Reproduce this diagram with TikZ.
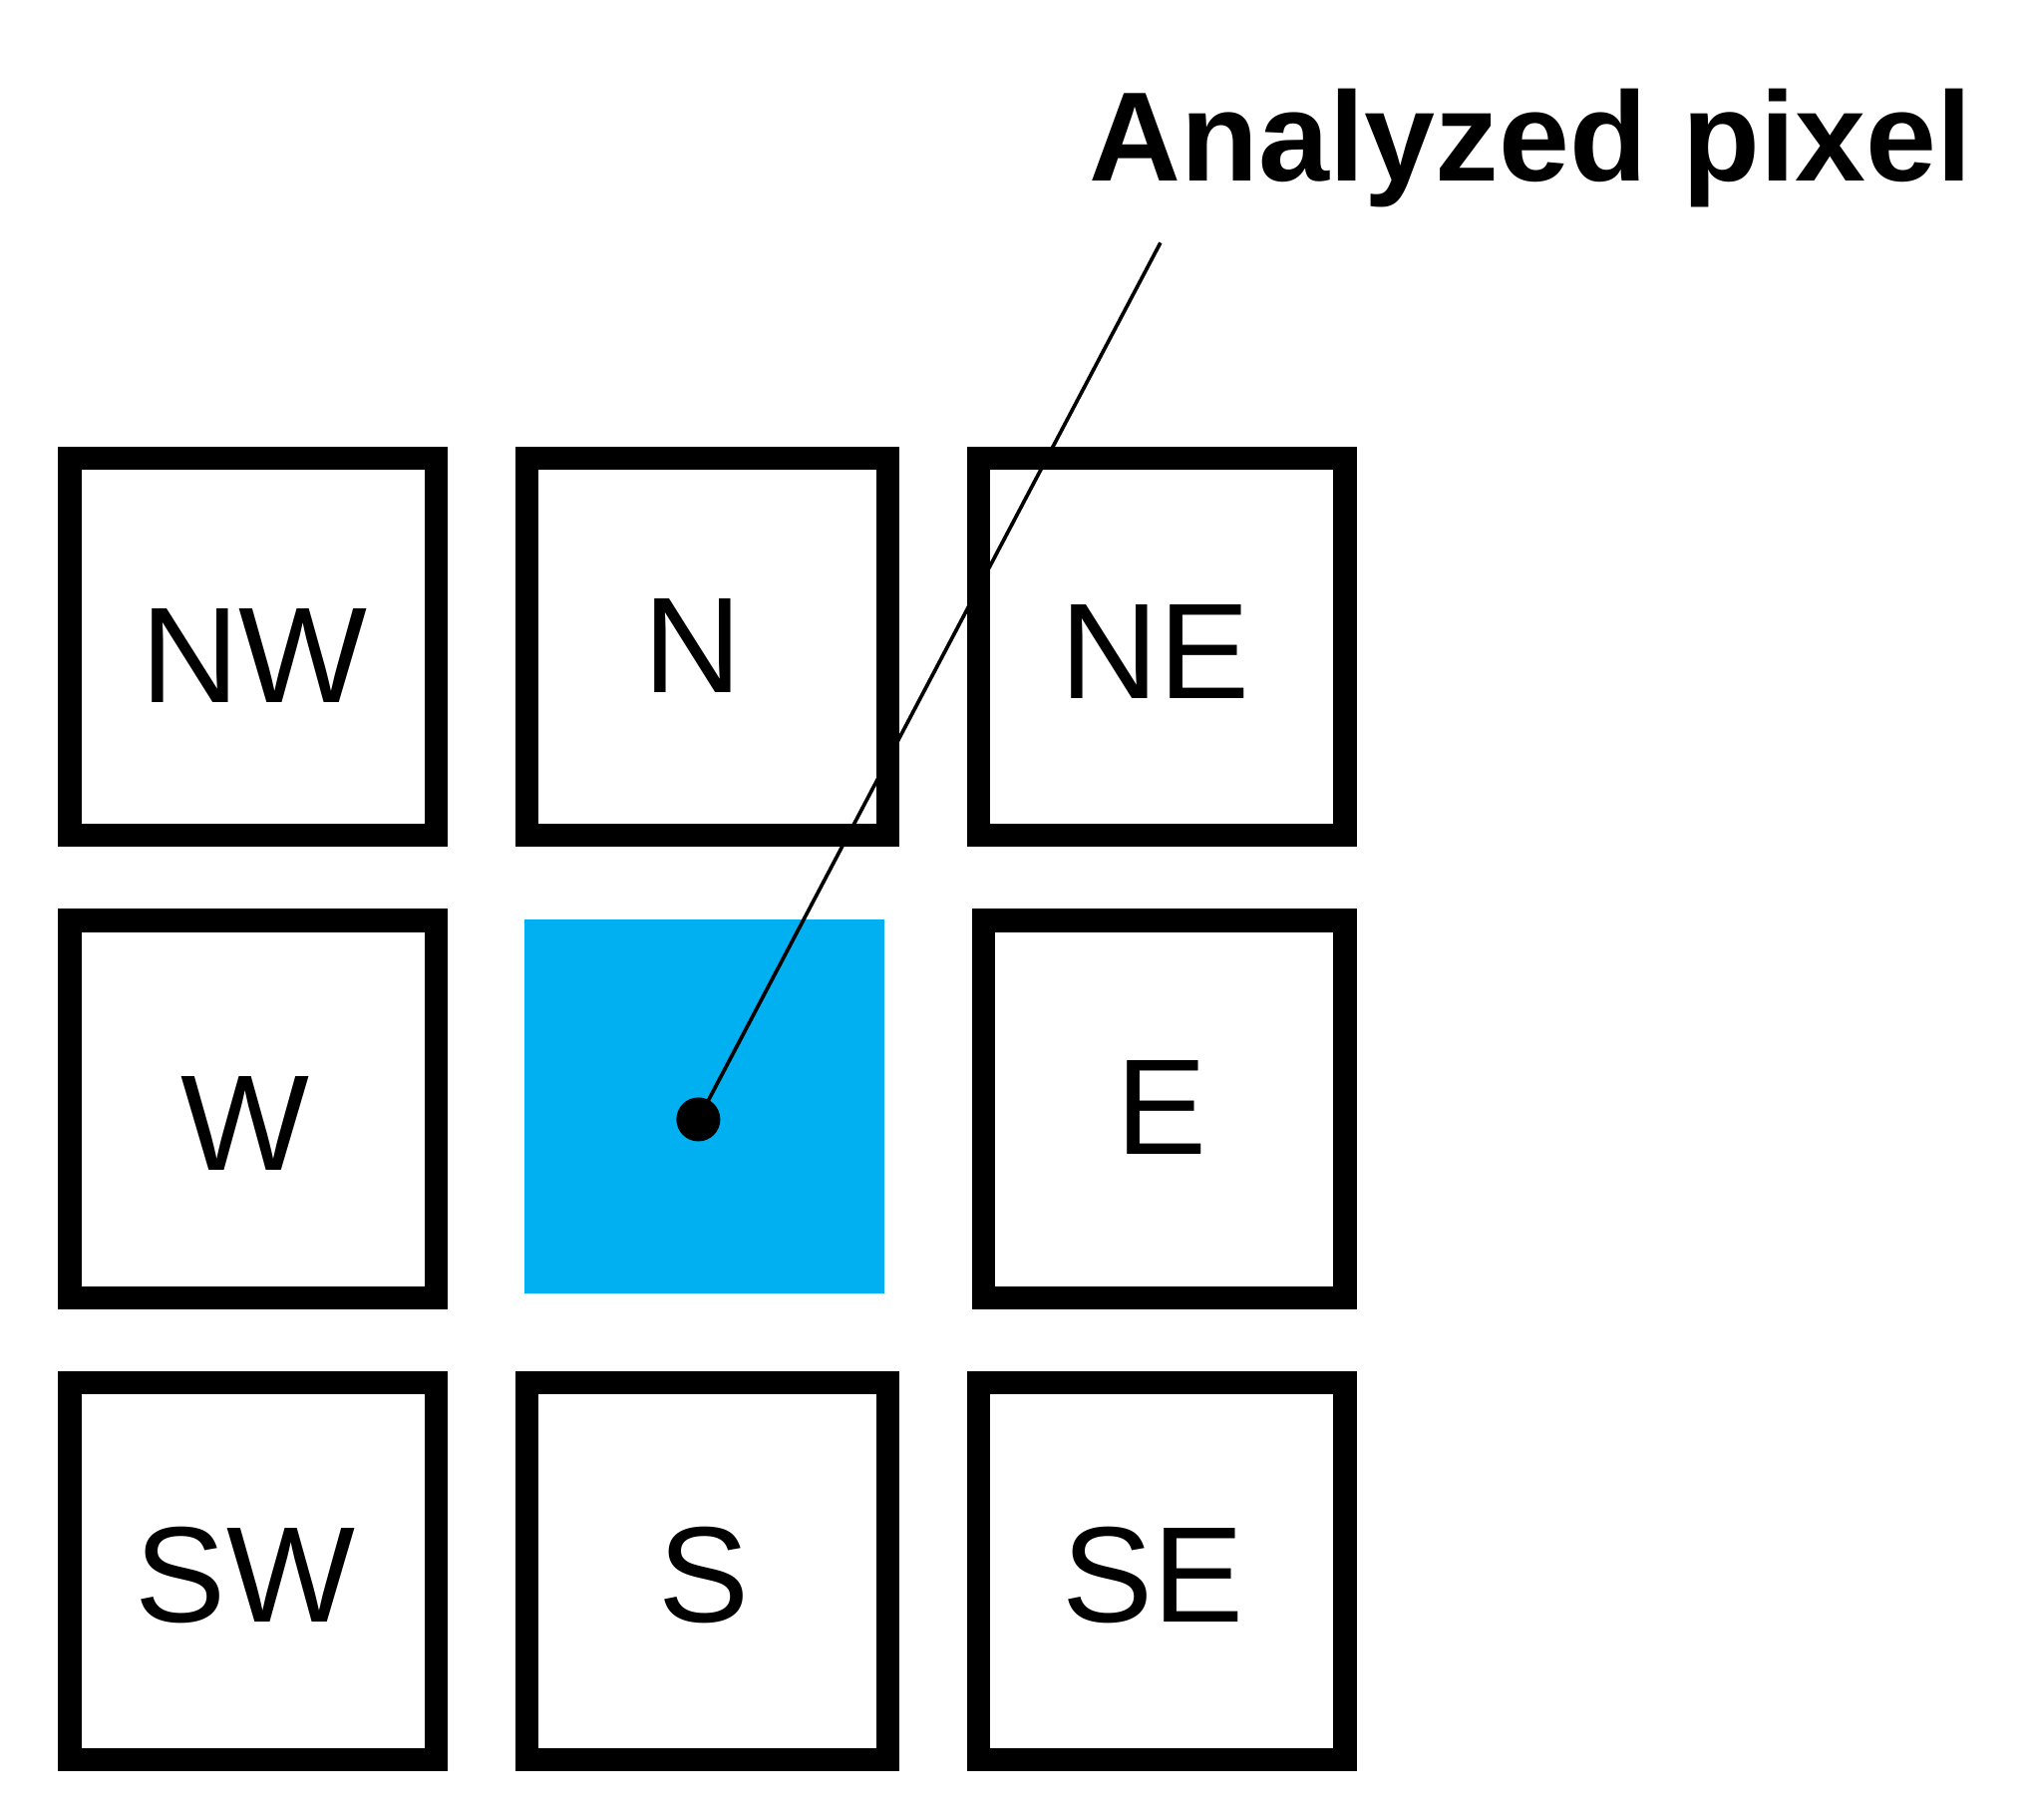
\documentclass[tikz,border=0pt]{standalone}
\usepackage{fontspec}
\setmainfont{Liberation Sans}
\begin{document}
\begin{tikzpicture}[x=0.01cm,y=-0.01cm,
  cell/.style={draw=black,line width=5.1pt},
  lbl/.style={font=\fontsize{30}{36}\selectfont,inner sep=0pt,anchor=center}]
\useasboundingbox (0,0) rectangle (1568,1409);
\draw[cell] (54,355) rectangle (338,647);
\draw[cell] (408,355) rectangle (688,647);
\draw[cell] (758,355) rectangle (1042,647);
\draw[cell] (54,713) rectangle (338,1005);
\fill[fill={rgb,255:red,0;green,176;blue,240}] (406,712) rectangle (685,1002);
\draw[cell] (762,713) rectangle (1042,1005);
\draw[cell] (54,1071) rectangle (338,1363);
\draw[cell] (408,1071) rectangle (688,1363);
\draw[cell] (758,1071) rectangle (1042,1363);
\node[lbl] (nw) at (197,508) {NW};
\node[lbl] (n) at (537,500) {N};
\node[lbl] (ne) at (895,505) {NE};
\node[lbl] (w) at (190,870) {W};
\node[lbl] (e) at (900,858) {E};
\node[lbl] (sw) at (190,1220) {SW};
\node[lbl] (s) at (545,1220) {S};
\node[lbl] (se) at (893,1220) {SE};
\node[font=\fontsize{28}{34}\selectfont\bfseries,inner sep=0pt,anchor=base west] (title) at (843,140) {Analyzed pixel};
\coordinate (lend) at (899,188);
\fill (541,867) circle (17);
\coordinate (dot) at (541,867);
\draw[line width=0.8pt] (dot) -- (lend);
\end{tikzpicture}
\end{document}
